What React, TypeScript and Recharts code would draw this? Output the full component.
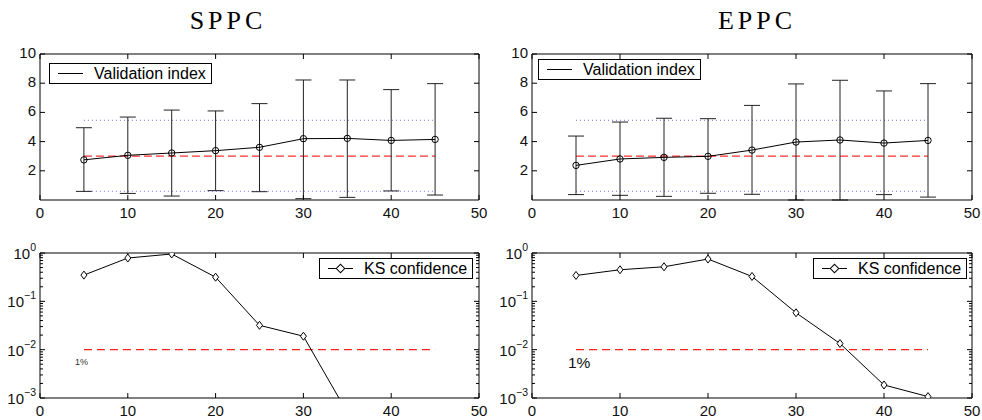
import React from 'react';
import { ComposedChart, Line, XAxis, YAxis, ErrorBar, ReferenceLine, Legend } from 'recharts';

// x positions (number of clusters)
const xs = [5, 10, 15, 20, 25, 30, 35, 40, 45];

// validation index: mean with upper / lower bounds
const sppcMean = [2.75, 3.06, 3.22, 3.38, 3.61, 4.2, 4.22, 4.08, 4.15];
const sppcUpper = [4.95, 5.68, 6.16, 6.1, 6.6, 8.22, 8.22, 7.56, 7.97];
const sppcLower = [0.59, 0.45, 0.27, 0.64, 0.57, 0.09, 0.18, 0.62, 0.34];
const eppcMean = [2.37, 2.81, 2.92, 2.99, 3.42, 3.97, 4.11, 3.9, 4.08];
const eppcUpper = [4.38, 5.34, 5.6, 5.57, 6.48, 7.95, 8.2, 7.47, 7.97];
const eppcLower = [0.37, 0.32, 0.25, 0.46, 0.39, 0, 0, 0.37, 0.2];

// KS confidence (log scale); SPPC runs off the bottom after 30
const sppcKs = [0.349, 0.787, 0.953, 0.316, 0.0319, 0.019, 0.0005];
const eppcKs = [0.343, 0.45, 0.519, 0.75, 0.327, 0.058, 0.0134, 0.00186, 0.00107];

const validationTarget = 3;
const bandLevels = [0.6, 5.46];
const ksThreshold = 0.01;

const xDomain = [0, 50];
const linDomain = [0, 10];
const logDomain = [0.001, 1];
const xTicks = [0, 10, 20, 30, 40, 50];
const linTicks = [2, 4, 6, 8, 10];
const decades = [0.001, 0.01, 0.1, 1];
const minorSteps = [2, 3, 4, 5, 6, 7, 8, 9];
const logTicks = [...decades, ...decades.slice(0, 3).flatMap((d) => minorSteps.map((m) => d * m))];

const FONT = '"Liberation Sans", Arial, Helvetica, sans-serif';
const SERIF = '"Liberation Serif", "Times New Roman", serif';
const TICK_FS = 15;

const validationRows = (mean: number[], up: number[], lo: number[]) =>
  xs.map((x, i) => ({ x, mean: mean[i], err: [mean[i] - lo[i], up[i] - mean[i]] }));
const ksRows = (vals: number[]) => vals.map((v, i) => ({ x: xs[i], ks: v }));

const isDecade = (v: number) => decades.some((d) => Math.abs(d - v) < 1e-9);

const BottomTick = ({ x, y, payload }: any) => (
  <g>
    <line x1={x} x2={x} y1={y} y2={y - 5} stroke="#000" />
    <text x={x} y={y + 17.5} textAnchor="middle" fontSize={TICK_FS} fill="#111" fontFamily={FONT}>
      {payload.value}
    </text>
  </g>
);

const LeftTick = ({ x, y, payload }: any) => (
  <g>
    <line x1={x} x2={x + 5} y1={y} y2={y} stroke="#000" />
    <text x={x - 4} y={y + 4} textAnchor="end" fontSize={TICK_FS} fill="#111" fontFamily={FONT}>
      {payload.value}
    </text>
  </g>
);

const LogLeftTick = ({ x, y, payload }: any) => {
  const major = isDecade(payload.value);
  const exp = Math.round(Math.log10(payload.value));
  return (
    <g>
      <line x1={x} x2={x + (major ? 5 : 3)} y1={y} y2={y} stroke="#000" />
      {major && (
        <text x={x - 4} y={y + 6} textAnchor="end" fontSize={TICK_FS} fill="#111" fontFamily={FONT}>
          10
          <tspan fontSize={10.5} dy={-8}>
            {exp === 0 ? '0' : '\u2212' + Math.abs(exp)}
          </tspan>
        </text>
      )}
    </g>
  );
};

// inward tick marks on the top and right edges of the box
const topTickShape = (p: any) => {
  if (![p.x1, p.y1, p.y2].every(Number.isFinite)) return <g />;
  const top = Math.min(p.y1, p.y2);
  return <line x1={p.x1} x2={p.x1} y1={top} y2={top + 5} stroke="#000" />;
};
const rightTickShape = (len: number) => (p: any) => {
  if (![p.x1, p.x2, p.y1].every(Number.isFinite)) return <g />;
  const right = Math.max(p.x1, p.x2);
  return <line x1={right} x2={right - len} y1={p.y1} y2={p.y1} stroke="#000" />;
};

const boxEdges = (yDomain: number[], rightTicks: number[], tickLen: (v: number) => number) => [
  <ReferenceLine key="edge-top" y={yDomain[1]} stroke="#000" strokeWidth={1} ifOverflow="visible" />,
  <ReferenceLine key="edge-right" x={xDomain[1]} stroke="#000" strokeWidth={1} ifOverflow="visible" />,
  ...xTicks.map((t) => <ReferenceLine key={'tt' + t} x={t} ifOverflow="visible" shape={topTickShape} />),
  ...rightTicks.map((t) => <ReferenceLine key={'rt' + t} y={t} ifOverflow="visible" shape={rightTickShape(tickLen(t))} />),
];

const Diamond = ({ cx, cy }: any) =>
  cx == null || cy == null ? null : (
    <path d={`M${cx},${cy - 4}L${cx + 3},${cy}L${cx},${cy + 4}L${cx - 3},${cy}Z`} fill="#fff" stroke="#000" strokeWidth={1} />
  );

const LegendBox = ({ label, diamond, width }: { label: string; diamond?: boolean; width: number }) => (
  <div
    style={{
      width,
      height: 21,
      border: '1px solid #000',
      background: '#fff',
      boxSizing: 'border-box',
      display: 'flex',
      alignItems: 'center',
      fontFamily: FONT,
      fontSize: 16,
      color: '#000',
    }}
  >
    <div style={{ position: 'relative', width: 44, height: 19, flex: 'none' }}>
      <div style={{ position: 'absolute', left: 8, top: 9, width: 25, borderTop: '1px solid #000' }} />
      {diamond && (
        <div
          style={{
            position: 'absolute',
            left: 17,
            top: 6,
            width: 5,
            height: 5,
            border: '1px solid #000',
            background: '#fff',
            transform: 'rotate(45deg)',
          }}
        />
      )}
    </div>
    <span style={{ whiteSpace: 'nowrap' }}>{label}</span>
  </div>
);

const axisStroke = { stroke: '#000', strokeWidth: 1 };

const ValidationPanel = ({ mean, up, lo, left, legendPos }: any) => {
  const rows = validationRows(mean, up, lo);
  return (
    <ComposedChart width={491} height={220} data={rows} margin={{ top: 54, right: left === 10 ? 12 : 10, bottom: 0, left }}>
      <XAxis dataKey="x" type="number" domain={xDomain} ticks={xTicks} interval={0} height={20} tickSize={0} tickMargin={0} axisLine={axisStroke} tick={<BottomTick />} />
      <YAxis type="number" domain={linDomain} ticks={linTicks} interval={0} width={30} tickSize={0} tickMargin={0} axisLine={axisStroke} tick={<LeftTick />} />
      {boxEdges(linDomain, linTicks, () => 5)}
      {bandLevels.map((b) => (
        <ReferenceLine key={'band' + b} segment={[{ x: xs[0], y: b }, { x: xs[xs.length - 1], y: b }]} stroke="#6e6eff" strokeDasharray="1 3" ifOverflow="visible" />
      ))}
      <ReferenceLine
        segment={[{ x: xs[0], y: validationTarget }, { x: xs[xs.length - 1], y: validationTarget }]}
        stroke="#ff3030"
        strokeWidth={1.2}
        strokeDasharray="8 4"
        ifOverflow="visible"
      />
      <Line dataKey="mean" stroke="#000" strokeWidth={1} dot={{ r: 3.2, fill: 'none', stroke: '#000', strokeWidth: 1 }} isAnimationActive={false}>
        <ErrorBar dataKey="err" width={8} stroke="#222" strokeWidth={1} direction="y" isAnimationActive={false} />
      </Line>
      <Legend
        layout="vertical"
        align="center"
        verticalAlign="middle"
        wrapperStyle={{ left: legendPos[0], top: legendPos[1], width: 'auto' }}
        content={() => <LegendBox label="Validation index" width={163} />}
      />
    </ComposedChart>
  );
};

const OnePercent = ({ viewBox, small }: any) => {
  if (!viewBox) return null;
  return (
    <text
      x={viewBox.x - (small ? 9 : 8)}
      y={viewBox.y + (small ? 15.5 : 18.5)}
      fontSize={small ? 9 : 15.5}
      fill={small ? '#333' : '#111'}
      fontFamily={FONT}
    >
      1%
    </text>
  );
};

const KsPanel = ({ vals, left, small }: any) => {
  const rows = ksRows(vals);
  return (
    <ComposedChart width={491} height={200} data={rows} margin={{ top: 33, right: left === 10 ? 12 : 10, bottom: 0, left }}>
      <XAxis dataKey="x" type="number" domain={xDomain} ticks={xTicks} interval={0} height={22} tickSize={0} tickMargin={0} axisLine={axisStroke} tick={<BottomTick />} />
      <YAxis type="number" scale="log" domain={logDomain} allowDataOverflow ticks={logTicks} interval={0} width={30} tickSize={0} tickMargin={0} axisLine={axisStroke} tick={<LogLeftTick />} />
      {boxEdges(logDomain, logTicks, (v) => (isDecade(v) ? 5 : 3))}
      <ReferenceLine
        segment={[{ x: xs[0], y: ksThreshold }, { x: xs[xs.length - 1], y: ksThreshold }]}
        stroke="#ff2020"
        strokeWidth={1.2}
        strokeDasharray="8 5"
        label={<OnePercent small={small} />}
      />
      <Line dataKey="ks" stroke="#000" strokeWidth={1} dot={<Diamond />} isAnimationActive={false} />
      <Legend
        layout="vertical"
        align="center"
        verticalAlign="middle"
        wrapperStyle={{ left: left === 10 ? 319 : 322, top: 38, width: 'auto' }}
        content={() => <LegendBox label="KS confidence" diamond width={154} />}
      />
    </ComposedChart>
  );
};

const titleStyle = (cx: number): React.CSSProperties => ({
  position: 'absolute',
  left: cx - 60,
  top: 6,
  width: 120,
  textAlign: 'center',
  fontFamily: SERIF,
  fontSize: 26,
  lineHeight: '30px',
  letterSpacing: 4,
  color: '#000',
});

export default function App() {
  return (
    <div style={{ position: 'absolute', left: 0, top: 0, width: 982, height: 420, background: '#fff' }}>
      <div style={titleStyle(228)}>SPPC</div>
      <div style={titleStyle(757)}>EPPC</div>
      <div style={{ position: 'absolute', left: 0, top: 0 }}>
        <ValidationPanel mean={sppcMean} up={sppcUpper} lo={sppcLower} left={10} legendPos={[49, 63]} />
      </div>
      <div style={{ position: 'absolute', left: 491, top: 0 }}>
        <ValidationPanel mean={eppcMean} up={eppcUpper} lo={eppcLower} left={11} legendPos={[47, 59]} />
      </div>
      <div style={{ position: 'absolute', left: 0, top: 220 }}>
        <KsPanel vals={sppcKs} left={10} small />
      </div>
      <div style={{ position: 'absolute', left: 491, top: 220 }}>
        <KsPanel vals={eppcKs} left={11} />
      </div>
    </div>
  );
}
